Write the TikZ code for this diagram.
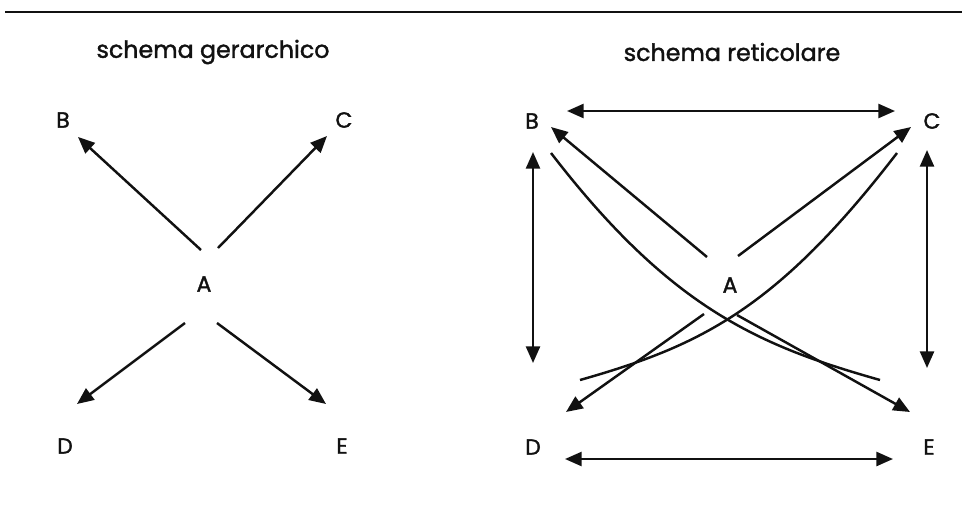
\documentclass[tikz,border=0pt]{standalone}
\usepackage{fontspec}
\setmainfont{Poppins}
\newfontfamily\heavyfont[FakeBold=1.5]{Poppins}
\usepackage{tikz}
\usetikzlibrary{arrows.meta,calc}
\definecolor{ink}{HTML}{111111}

\begin{document}
\begin{tikzpicture}[x=0.02cm,y=-0.02cm]
    \tikzset{
      lbl/.style={inner sep=0pt,font=\heavyfont\fontsize{12.5}{14}\selectfont,text=ink},
      ttl/.style={inner sep=0pt,font=\heavyfont\fontsize{13.5}{15}\selectfont,text=ink},
      arrow/.style={-{Triangle[length=9.5pt,width=8pt]},draw=ink,line width=1.4pt},
      twoway/.style={{Triangle[length=9.5pt,width=8pt]}-{Triangle[length=9.5pt,width=8pt]},draw=ink,line width=1.4pt},
      curve/.style={draw=ink,line width=1.4pt}
    }
    \useasboundingbox (0,0) rectangle (962,504);
    \draw[ink,line width=1.1pt] (5,12) -- (962,12);
    % titles
    \node[ttl] (tger) at (213,52) {schema gerarchico};
    \node[ttl] (tret) at (732,52) {schema reticolare};
    % hierarchical scheme
    \node[lbl] (gA) at (204,284) {A};
    \node[lbl] (gB) at (63,120) {B};
    \node[lbl] (gC) at (344,120) {C};
    \node[lbl] (gD) at (65,446) {D};
    \node[lbl] (gE) at (342,446) {E};
    \draw[arrow] ($(gA)+(-3,-34)$) -- ($(gB)+(15,17)$);
    \draw[arrow] ($(gA)+(14,-36)$) -- ($(gC)+(-17,16)$);
    \draw[arrow] ($(gA)+(-19,39)$) -- ($(gD)+(12,-42)$);
    \draw[arrow] ($(gA)+(13,39)$) -- ($(gE)+(-16,-42)$);
    % network scheme
    \node[lbl] (rA) at (730,285) {A};
    \node[lbl] (rB) at (532,121) {B};
    \node[lbl] (rC) at (932,121) {C};
    \node[lbl] (rD) at (533,447) {D};
    \node[lbl] (rE) at (929,447) {E};
    \draw[twoway] ($(rB)+(35,-10)$) -- ($(rC)+(-37,-10)$);
    \draw[twoway] ($(rD)+(32,12)$) -- ($(rE)+(-36,12)$);
    \draw[twoway] ($(rB)+(1,31)$) -- ($(rD)+(0,-84)$);
    \draw[twoway] ($(rC)+(-5,29)$) -- ($(rE)+(-2,-79)$);
    \draw[arrow] ($(rA)+(-23,-28)$) -- ($(rB)+(19,6)$);
    \draw[arrow] ($(rA)+(8,-29)$) -- ($(rC)+(-21,6)$);
    \draw[arrow] ($(rA)+(-26,29)$) -- ($(rD)+(33,-35)$);
    \draw[arrow] ($(rA)+(7,30)$) -- ($(rE)+(-19,-35)$);
    \draw[curve] ($(rB)+(19,32)$) .. controls (671,309) and (760,346) .. ($(rE)+(-49,-67)$);
    \draw[curve] ($(rC)+(-35,32)$) .. controls (777,309) and (700,346) .. ($(rD)+(47,-67)$);
\end{tikzpicture}
\end{document}
